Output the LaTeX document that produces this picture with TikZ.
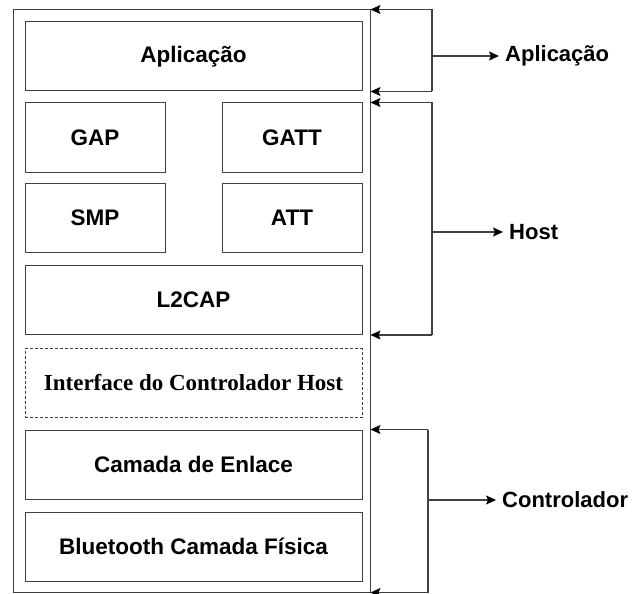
\documentclass[tikz,border=0pt]{standalone}
\usepackage{fontspec}
\setmainfont{Liberation Sans}
\newfontfamily\timesface{Liberation Serif}
\usetikzlibrary{shapes, arrows.meta}
\tikzstyle{layer} = [rectangle, draw=black!75, line width=1pt, inner sep=0pt, minimum width=337pt, minimum height=69pt, text centered, font=\fontsize{22.5}{26}\selectfont\bfseries]
\tikzstyle{halflayer} = [layer, minimum width=140pt]
\tikzstyle{hci} = [layer, dash pattern=on 3pt off 2pt, font=\timesface\fontsize{23}{27}\selectfont\bfseries]
\tikzstyle{bracket} = [line width=1.1pt, draw=black!75]
\tikzstyle{arrow} = [bracket, -{Stealth[length=10pt,width=9pt,inset=2pt,color=black]}]
\tikzstyle{group} = [anchor=west, inner sep=6pt, font=\fontsize{22}{26}\selectfont\bfseries]

\begin{document}
\begin{tikzpicture}[x=1pt, y=-1pt]
\useasboundingbox (0,0) rectangle (635,594);
% protocol stack
\node[draw=black!75, line width=1pt, inner sep=0pt, minimum width=357pt, minimum height=582pt] (stack) at (191.5,301) {};
\node[layer] (app) at (193.5,56.5) {Aplicação};
\node[halflayer] (gap) at (95,137.5) {GAP};
\node[halflayer] (gatt) at (292,137.5) {GATT};
\node[halflayer] (smp) at (95,217.5) {SMP};
\node[halflayer] (att) at (292,217.5) {ATT};
\node[layer] (l2cap) at (193.5,300) {L2CAP};
\node[hci] (hci) at (193.5,383) {Interface do Controlador Host};
\node[layer] (link) at (193.5,464.5) {Camada de Enlace};
\node[layer] (phy) at (193.5,546.5) {Bluetooth Camada Física};

% groups on the right
\node[group] (lblapp) at (499,56) {Aplicação};
\node[group] (lblhost) at (503,232) {Host};
\node[group] (lblctrl) at (496,500) {Controlador};
\coordinate (appbr) at (432,56);
\coordinate (hostbr) at (432,232);
\coordinate (ctrlbr) at (428,500);

\draw[bracket] (appbr |- stack.north) -- (appbr |- app.south);
\draw[arrow] (appbr |- stack.north) -- (stack.north east);
\draw[arrow] (appbr |- app.south) -- (stack.east |- app.south);
\draw[arrow] (appbr) -- (lblapp.west);

\draw[bracket] (hostbr |- gap.north) -- (hostbr |- l2cap.south);
\draw[arrow] (hostbr |- gap.north) -- (stack.east |- gap.north);
\draw[arrow] (hostbr |- l2cap.south) -- (stack.east |- l2cap.south);
\draw[arrow] (hostbr) -- (lblhost.west);

\draw[bracket] (ctrlbr |- link.north) -- (ctrlbr |- stack.south);
\draw[arrow] (ctrlbr |- link.north) -- (stack.east |- link.north);
\draw[arrow] (ctrlbr |- stack.south) -- (stack.south east);
\draw[arrow] (ctrlbr) -- (lblctrl.west);
\end{tikzpicture}
\end{document}
